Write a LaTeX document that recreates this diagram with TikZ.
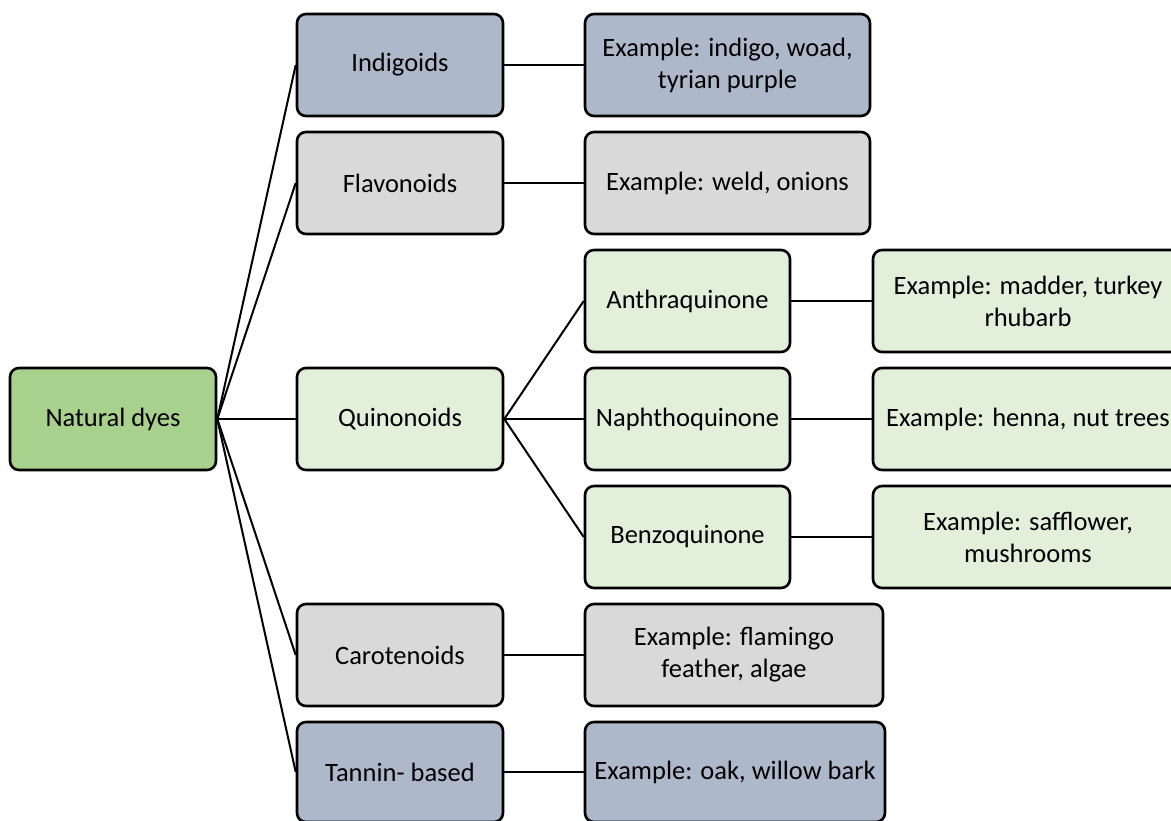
\documentclass[tikz,border=0pt]{standalone}
\usepackage{fontspec}
\setmainfont{Carlito}
\definecolor{maingreen}{HTML}{A9D18E}
\definecolor{lightgreen}{HTML}{E2EFDA}
\definecolor{bluegray}{HTML}{ADB9CA}
\definecolor{lightgray}{HTML}{D9D9D9}
\begin{document}
\begin{tikzpicture}[x=0.5pt,y=-0.5pt,
  box/.style={draw=black, line width=1.3pt, rounded corners=4.5pt, align=center,
    inner sep=0pt, minimum height=51pt, font=\fontsize{13.25}{16}\selectfont},
  link/.style={line width=1pt}]
\useasboundingbox (0,0) rectangle (1171,820);
\clip (0,0) rectangle (1171,820);
% root
\node[box, fill=maingreen, minimum width=103pt] (nd) at (113,419) {Natural dyes};
% categories
\node[box, fill=bluegray, minimum width=103pt] (ind) at (400,65) {Indigoids};
\node[box, fill=lightgray, minimum width=103pt] (fla) at (400,183) {Flavonoids};
\node[box, fill=lightgreen, minimum width=103pt] (qui) at (400,419) {Quinonoids};
\node[box, fill=lightgray, minimum width=103pt] (car) at (400,655) {Carotenoids};
\node[box, fill=bluegray, minimum width=103pt, minimum height=50pt] (tan) at (400,772) {Tannin- based};
% examples
\node[box, fill=bluegray, minimum width=142.5pt] (exind) at (727.5,65) {Example: indigo, woad,\\tyrian purple};
\node[box, fill=lightgray, minimum width=142.5pt] (exfla) at (727.5,183) {Example: weld, onions};
\node[box, fill=lightgray, minimum width=149pt] (excar) at (734,655) {Example: flamingo\\feather, algae};
\node[box, fill=bluegray, minimum width=150pt, minimum height=50pt] (extan) at (735,772) {Example: oak, willow bark};
% quinonoid subtypes
\node[box, fill=lightgreen, minimum width=102.5pt] (ant) at (687.5,301) {Anthraquinone};
\node[box, fill=lightgreen, minimum width=102.5pt] (nap) at (687.5,419) {Naphthoquinone};
\node[box, fill=lightgreen, minimum width=102.5pt] (ben) at (687.5,537) {Benzoquinone};
\node[box, fill=lightgreen, minimum width=155pt] (exant) at (1028,301) {Example: madder, turkey\\rhubarb};
\node[box, fill=lightgreen, minimum width=155pt] (exnap) at (1028,419) {Example: henna, nut trees};
\node[box, fill=lightgreen, minimum width=155pt] (exben) at (1028,537) {Example: safflower,\\mushrooms};
% connectors
\draw[link] (nd.east) -- (ind.west);
\draw[link] (nd.east) -- (fla.west);
\draw[link] (nd.east) -- (qui.west);
\draw[link] (nd.east) -- (car.west);
\draw[link] (nd.east) -- (tan.west);
\draw[link] (ind) -- (exind);
\draw[link] (fla) -- (exfla);
\draw[link] (car) -- (excar);
\draw[link] (tan) -- (extan);
\draw[link] (qui.east) -- (ant.west);
\draw[link] (qui.east) -- (nap.west);
\draw[link] (qui.east) -- (ben.west);
\draw[link] (ant) -- (exant);
\draw[link] (nap) -- (exnap);
\draw[link] (ben) -- (exben);
\end{tikzpicture}
\end{document}
